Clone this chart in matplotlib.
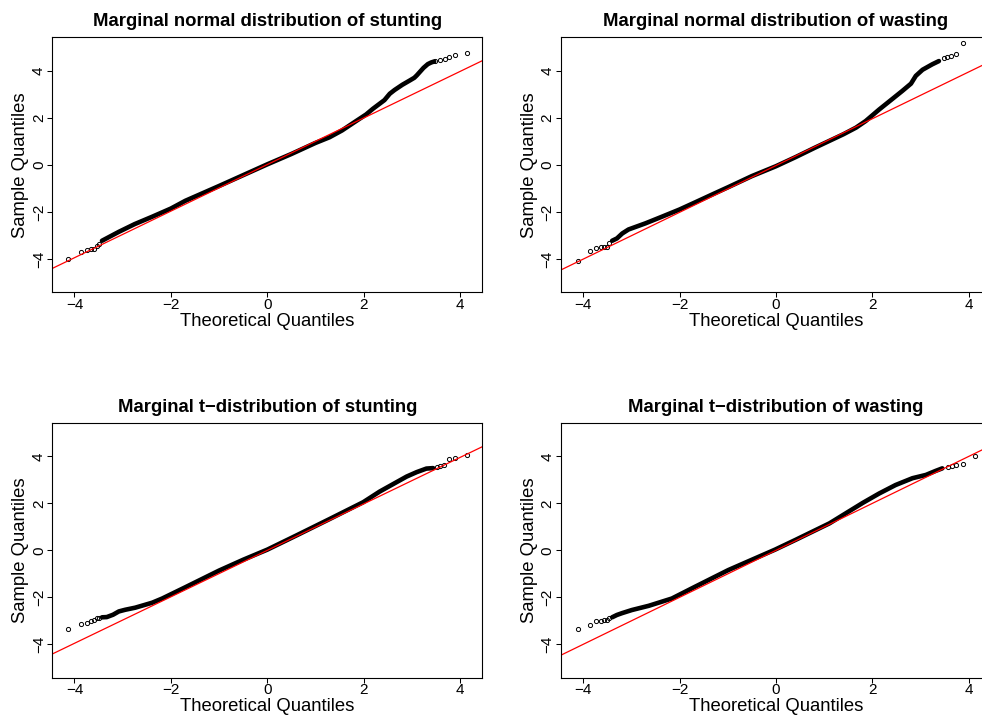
import numpy as np
import matplotlib
matplotlib.use("Agg")
import matplotlib.pyplot as plt

plt.rcParams['font.family'] = ['Liberation Sans', 'DejaVu Sans']

titles = ["Marginal normal distribution of stunting",
          "Marginal normal distribution of wasting",
          "Marginal t\u2212distribution of stunting",
          "Marginal t\u2212distribution of wasting"]

ticks = [-4, -2, 0, 2, 4]

# normal, stunting
ns_band_x = [-3.43, -3.2, -3.08, -2.75, -2.39, -2.0, -1.70, -1.3, -1.0, -0.5, 0.0, 0.5, 1.0, 1.29,
             1.55, 1.85, 2.05, 2.19, 2.43, 2.54, 2.64, 2.80, 2.96, 3.05, 3.10, 3.24, 3.33, 3.40, 3.46]
ns_band_y = [-3.23, -2.98, -2.85, -2.52, -2.21, -1.86, -1.53, -1.17, -0.90, -0.44, 0.02, 0.46, 0.93, 1.17,
             1.46, 1.87, 2.14, 2.38, 2.75, 3.02, 3.18, 3.40, 3.59, 3.70, 3.80, 4.12, 4.28, 4.35, 4.39]
ns_tail_x = [-4.14, -3.87, -3.74, -3.66, -3.59, -3.54, -3.49, 3.48, 3.58, 3.69, 3.77, 3.90, 4.15]
ns_tail_y = [-4.02, -3.70, -3.62, -3.57, -3.59, -3.45, -3.35, 4.40, 4.44, 4.51, 4.58, 4.65, 4.75]
ns_line = (0.01, 0.99)

# normal, wasting
nw_band_x = [-3.40, -3.30, -3.19, -3.06, -2.71, -2.37, -2.0, -1.68, -1.3, -0.99, -0.5, 0.0, 0.41, 0.8,
             1.11, 1.40, 1.66, 1.86, 2.14, 2.42, 2.62, 2.80, 2.90, 3.04, 3.24, 3.38]
nw_band_y = [-3.23, -3.13, -2.92, -2.75, -2.49, -2.21, -1.90, -1.60, -1.24, -0.95, -0.48, -0.06, 0.33, 0.72,
             1.02, 1.30, 1.58, 1.86, 2.35, 2.81, 3.14, 3.45, 3.78, 4.04, 4.27, 4.41]
nw_tail_x = [-4.11, -3.85, -3.73, -3.64, -3.57, -3.51, -3.46, 3.49, 3.55, 3.62, 3.74, 3.87]
nw_tail_y = [-4.10, -3.67, -3.53, -3.50, -3.50, -3.49, -3.32, 4.55, 4.58, 4.63, 4.70, 5.18]
nw_line = (-0.03, 0.995)

# t, stunting
ts_band_x = [-3.43, -3.33, -3.20, -3.08, -2.95, -2.74, -2.39, -2.18, -1.70, -1.0, -0.5, 0.0, 0.6, 1.29,
             1.99, 2.33, 2.68, 2.89, 3.10, 3.30, 3.44]
ts_band_y = [-2.85, -2.84, -2.74, -2.60, -2.53, -2.44, -2.23, -2.05, -1.57, -0.86, -0.40, 0.03, 0.63, 1.33,
             2.05, 2.50, 2.90, 3.14, 3.33, 3.48, 3.50]
ts_tail_x = [-4.14, -3.87, -3.74, -3.66, -3.59, -3.54, -3.49, 3.51, 3.58, 3.67, 3.77, 3.89, 4.15]
ts_tail_y = [-3.36, -3.12, -3.08, -3.02, -2.97, -2.88, -2.86, 3.55, 3.60, 3.65, 3.90, 3.93, 4.06]
ts_line = (0.0, 0.989)

# t, wasting
tw_band_x = [-3.40, -3.30, -3.19, -2.99, -2.64, -2.16, -1.68, -0.99, -0.5, -0.02, 0.41, 1.11, 1.80,
             2.14, 2.48, 2.83, 3.11, 3.31, 3.45]
tw_band_y = [-2.85, -2.75, -2.67, -2.54, -2.36, -2.05, -1.55, -0.84, -0.40, 0.03, 0.45, 1.15, 2.02,
             2.42, 2.78, 3.07, 3.21, 3.38, 3.49]
tw_tail_x = [-4.11, -3.85, -3.73, -3.64, -3.57, -3.51, -3.46, 3.57, 3.66, 3.74, 3.87, 4.13]
tw_tail_y = [-3.33, -3.16, -3.01, -2.99, -2.98, -2.95, -2.90, 3.53, 3.57, 3.63, 3.67, 4.00]
tw_line = (0.0, 1.0)

panels = [
    (ns_band_x, ns_band_y, ns_tail_x, ns_tail_y, ns_line),
    (nw_band_x, nw_band_y, nw_tail_x, nw_tail_y, nw_line),
    (ts_band_x, ts_band_y, ts_tail_x, ts_tail_y, ts_line),
    (tw_band_x, tw_band_y, tw_tail_x, tw_tail_y, tw_line),
]

W, H = 982, 717
fig = plt.figure(figsize=(W / 100, H / 100), dpi=100)

# axes boxes in pixels: left, top, width, height
boxes = [(52.3, 37.3, 430, 255), (561, 37.3, 430, 255),
         (52.3, 423, 430, 254.7), (561, 423, 430, 254.7)]

for (bx, by, bw, bh), title, (band_x, band_y, tail_x, tail_y, (a, b)) in zip(boxes, titles, panels):
    ax = fig.add_axes([bx / W, 1 - (by + bh) / H, bw / W, bh / H])
    ax.plot(band_x, band_y, color='black', lw=3.3, solid_capstyle='round', solid_joinstyle='round')
    ax.plot(tail_x, tail_y, 'o', mfc='none', mec='black', ms=3.0, mew=0.7)
    ax.axline((0, a), slope=b, color='red', lw=0.9)
    ax.set_xlim(-4.46, 4.46)
    ax.set_ylim(-5.42, 5.42)
    ax.set_xticks(ticks)
    ax.set_yticks(ticks)
    ax.tick_params(direction='out', length=3.6, width=0.75, labelsize=11)
    ax.tick_params(axis='x', pad=0.5)
    ax.tick_params(axis='y', pad=1.0, labelrotation=90)
    for lbl in ax.get_yticklabels():
        lbl.set_va('center')
    for s in ax.spines.values():
        s.set_linewidth(0.8)
    ax.set_title(title, fontsize=13.3, fontweight='bold', pad=8)
    ax.set_xlabel("Theoretical Quantiles", fontsize=13.3, va='baseline')
    ax.set_ylabel("Sample Quantiles", fontsize=13.3, va='baseline')
    ax.xaxis.set_label_coords(0.5, -(326 - 292.3) / 255)
    ax.yaxis.set_label_coords((25 - 52.3) / 430, 0.5)

fig.savefig("out.png", dpi=100)
